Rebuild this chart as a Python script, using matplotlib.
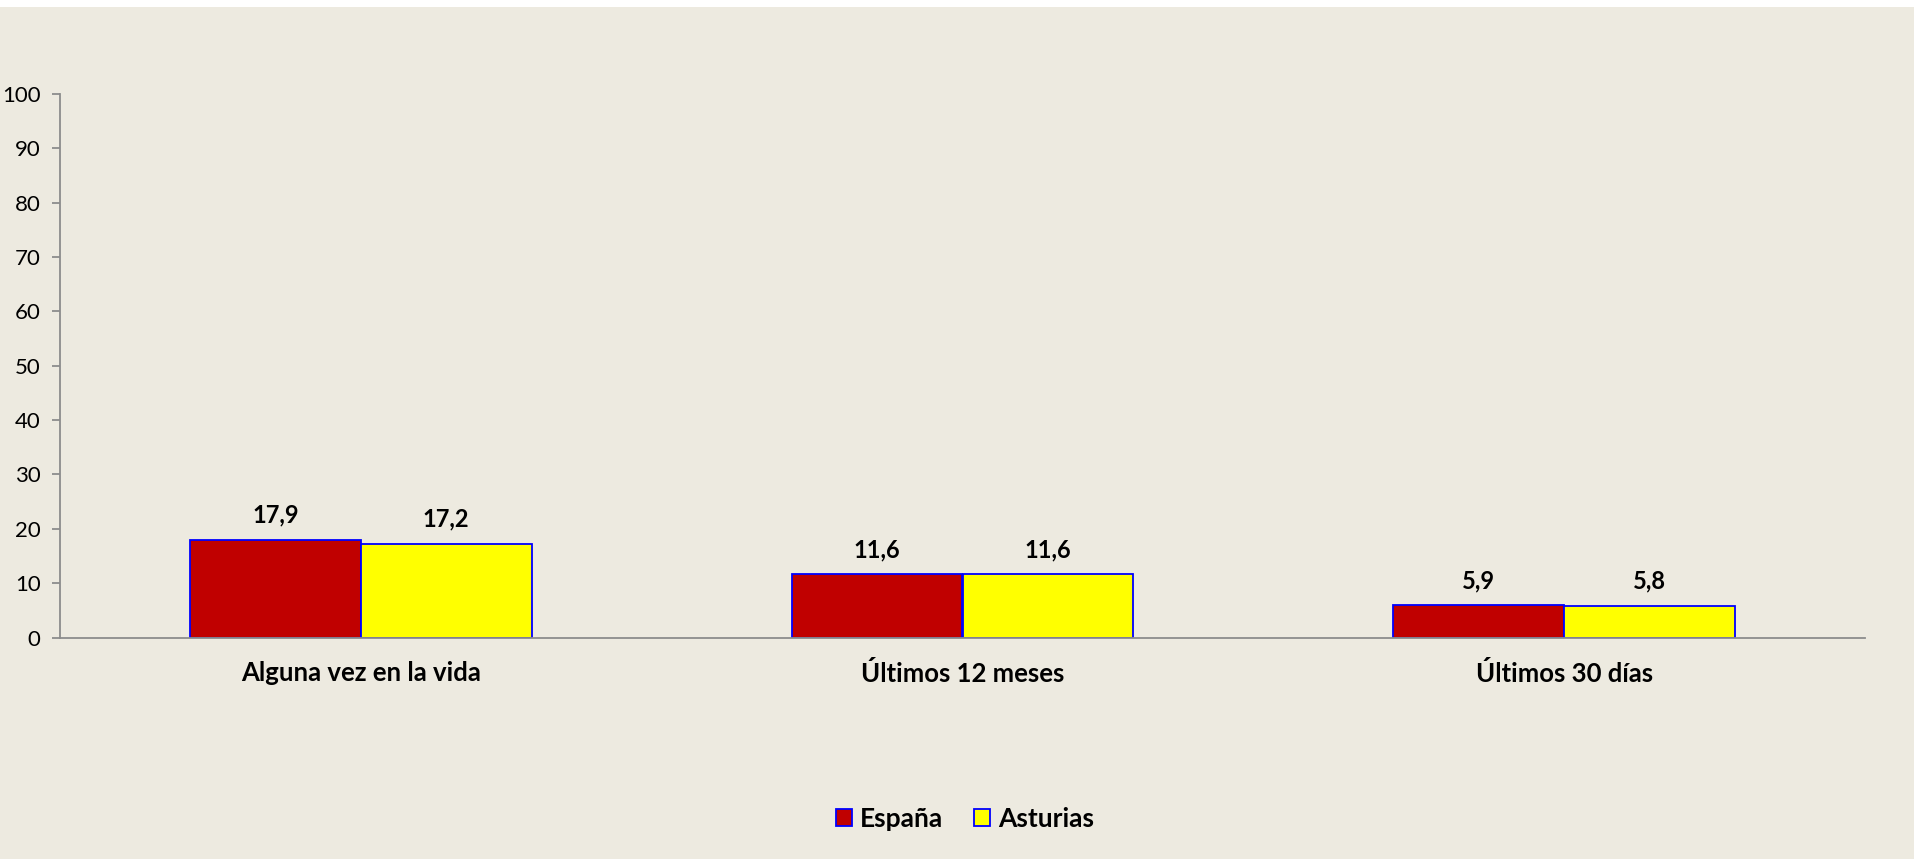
import matplotlib.pyplot as plt
import numpy as np
from matplotlib.patches import Rectangle

categories = ['Alguna vez en la vida', 'Últimos 12 meses', 'Últimos 30 días']
espana = [17.9, 11.6, 5.9]
asturias = [17.2, 11.6, 5.8]
series_names = ['España', 'Asturias']
yticks = [0, 10, 20, 30, 40, 50, 60, 70, 80, 90, 100]

plt.rcParams['font.family'] = ['Lato', 'DejaVu Sans']
bg = '#EDEAE0'

fig = plt.figure(figsize=(19.15, 8.59), dpi=100, facecolor=bg)
ax = fig.add_axes([60/1915, 221.5/859, 1805/1915, 543.5/859])
ax.set_facecolor(bg)
# thin white strip at the top
fig.patches.append(Rectangle((0, 1-7/859), 1, 7/859, transform=fig.transFigure,
                             facecolor='white', edgecolor='none'))

x = np.arange(len(categories))
w = 0.284
b1 = ax.bar(x - w/2, espana, w, color='#C00000', edgecolor='#0000FF', linewidth=1.3, label=series_names[0])
b2 = ax.bar(x + w/2, asturias, w, color='#FFFF00', edgecolor='#0000FF', linewidth=1.3, label=series_names[1])

for bars, vals in ((b1, espana), (b2, asturias)):
    for rect, v in zip(bars, vals):
        ax.annotate(f'{v:.1f}'.replace('.', ','), (rect.get_x() + rect.get_width()/2, v),
                    xytext=(0, 18), textcoords='offset points', ha='center', va='center',
                    fontsize=17, fontweight='bold')

ax.set_xlim(-0.5, 2.5)
ax.set_ylim(0, 100)
ax.set_yticks(yticks)
ax.tick_params(axis='y', labelsize=16, length=6, color='#8C8C8C', width=1.3, pad=8)
ax.set_xticks(x)
ax.set_xticklabels(categories, fontsize=18.5, fontweight='bold')
ax.tick_params(axis='x', length=0, pad=17)
for s in ['top', 'right']:
    ax.spines[s].set_visible(False)
for s in ['left', 'bottom']:
    ax.spines[s].set_color('#8C8C8C')
    ax.spines[s].set_linewidth(1.3)

leg = fig.legend(handles=[b1, b2], labels=series_names, loc='center', bbox_to_anchor=(965/1915, 40/859),
                 ncol=2, frameon=False, prop={'weight': 'bold', 'size': 19},
                 handlelength=0.6, handleheight=0.6, handletextpad=0.3, columnspacing=1.2)

fig.savefig('out.png', dpi=100, facecolor=bg)
